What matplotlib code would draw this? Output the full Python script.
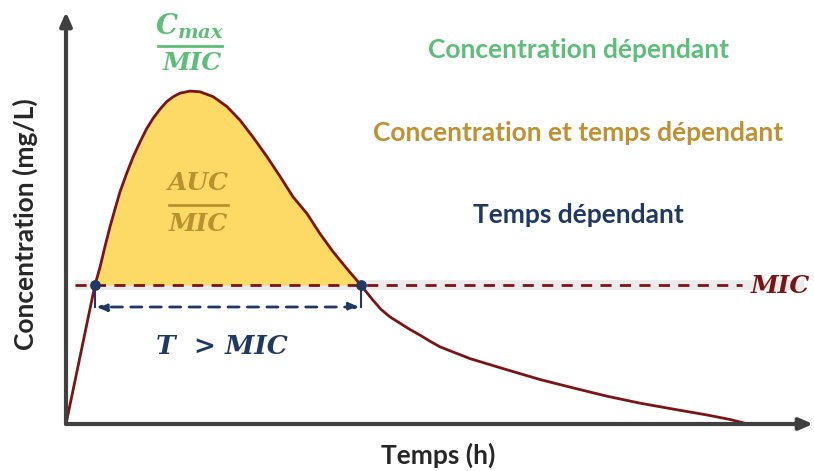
import numpy as np
import matplotlib
matplotlib.use("Agg")
import matplotlib.pyplot as plt
from matplotlib.lines import Line2D

# concentration-time curve (h, mg/L)
temps = [0, 0.51, 1.02, 1.20, 1.37, 1.55, 1.73, 1.90, 2.14, 2.37, 2.61, 2.84,
         3.07, 3.31, 3.55, 3.78, 4.01, 4.37, 4.72, 5.18, 5.66, 6.13, 6.58,
         7.07, 7.54, 7.99, 8.48, 8.94, 9.40, 9.88, 10.38, 10.77, 11.09, 11.41,
         11.76, 12.11, 12.46, 12.82, 13.17, 14.23, 15.53, 16.69, 17.85, 19.05,
         20.21, 21.44, 22.57, 23.38, 24.01]
conc = [0, 1.00, 2.00, 2.26, 2.55, 2.84, 3.10, 3.34, 3.61, 3.85, 4.06, 4.25,
        4.40, 4.53, 4.64, 4.71, 4.76, 4.79, 4.78, 4.71, 4.57, 4.37, 4.13,
        3.85, 3.56, 3.27, 3.03, 2.74, 2.48, 2.24, 2.00, 1.80, 1.65, 1.54,
        1.45, 1.36, 1.28, 1.19, 1.11, 0.94, 0.78, 0.64, 0.52, 0.40,
        0.30, 0.21, 0.13, 0.065, 0.0]
mic = 2.0
t_above = [1.02, 10.38]   # times where the curve crosses the MIC

red = "#7B1416"
navy = "#1F3864"
green = "#5DBE7A"
gold = "#BF9130"
gold_dark = "#B8922E"
axis_col = "#404040"

W, H = 814, 471
fig = plt.figure(figsize=(W / 100, H / 100), dpi=100)
ax = fig.add_axes([66 / W, 47 / H, (813 - 66) / W, (424 - 12) / H])
ax.set_xlim(0, (813 - 66) / 28.4)
ax.set_ylim(0, (424 - 12) / 69.5)
ax.set_xticks([])
ax.set_yticks([])
for s in ax.spines.values():
    s.set_visible(False)

t = np.array(temps)
c = np.array(conc)

# AUC above MIC
mask = (t >= t_above[0]) & (t <= t_above[1])
ax.fill_between(t[mask], mic, c[mask], color="#FDD966", lw=0, zorder=1)

# MIC line with light grey band behind
ax.plot([0.3, 26.0], [mic, mic], color="#EBEBEB", lw=7, solid_capstyle="butt", zorder=0.5)
ax.plot([0.3, 23.8], [mic, mic], color=red, lw=2, ls=(0, (4, 3)), zorder=2)

ax.plot(t, c, color=red, lw=2, zorder=3)

# axes arrows
ax.annotate("", xy=(1.0, 0), xytext=(0, 0), xycoords="axes fraction",
            arrowprops=dict(arrowstyle="-|>,head_length=0.8,head_width=0.35",
                            color=axis_col, lw=3, shrinkA=0, shrinkB=0))
ax.annotate("", xy=(0, 1.0), xytext=(0, 0), xycoords="axes fraction",
            arrowprops=dict(arrowstyle="-|>,head_length=0.8,head_width=0.35",
                            color=axis_col, lw=3, shrinkA=0, shrinkB=0))

# T > MIC bracket
y_arr = (424 - 307) / 69.5
for tx in t_above:
    ax.plot([tx, tx], [mic, y_arr], color=navy, lw=1.5, zorder=4)
ax.annotate("", xy=(t_above[0] + 0.05, y_arr), xytext=(t_above[1] - 0.05, y_arr),
            arrowprops=dict(arrowstyle="<|-|>,head_length=0.6,head_width=0.25",
                            color=navy, lw=2, ls=(0, (4, 3)), shrinkA=0, shrinkB=0))
ax.scatter(t_above, [mic, mic], s=45, color=navy, zorder=5)

def ftxt(x, y, s, **kw):
    fig.text(x / W, 1 - y / H, s, ha="center", va="center", **kw)

plt.rcParams["mathtext.fontset"] = "dejavuserif"
serif = dict(family="DejaVu Serif", weight="bold", style="italic")

# Cmax / MIC
ftxt(190, 26, r"$\mathbfit{C}_{\mathbfit{max}}$", color=green, fontsize=20)
fig.add_artist(Line2D([158 / W, 222 / W], [1 - 46 / H, 1 - 46 / H], color=green, lw=2))
ftxt(192, 63, "MIC", color=green, fontsize=18, **serif)

# AUC / MIC
ftxt(198, 183, "AUC", color=gold_dark, fontsize=18, **serif)
fig.add_artist(Line2D([169 / W, 228 / W], [1 - 205 / H, 1 - 205 / H], color=gold_dark, lw=2))
ftxt(198, 224, "MIC", color=gold_dark, fontsize=18, **serif)

ftxt(222, 347, "T  > MIC", color=navy, fontsize=19, **serif)
ftxt(780, 286, "MIC", color=red, fontsize=18, **serif)

sans = dict(family="Lato", weight="bold")
ftxt(578, 50, "Concentration dépendant", color=green, fontsize=19, **sans)
ftxt(578, 133, "Concentration et temps dépendant", color=gold, fontsize=19, **sans)
ftxt(578, 215, "Temps dépendant", color=navy, fontsize=19, **sans)

ftxt(438, 455, "Temps (h)", color="#262626", fontsize=19, **sans)
ftxt(25, 224, "Concentration (mg/L)", color="#262626", fontsize=19, rotation=90, **sans)

fig.savefig("out.png", dpi=100)
